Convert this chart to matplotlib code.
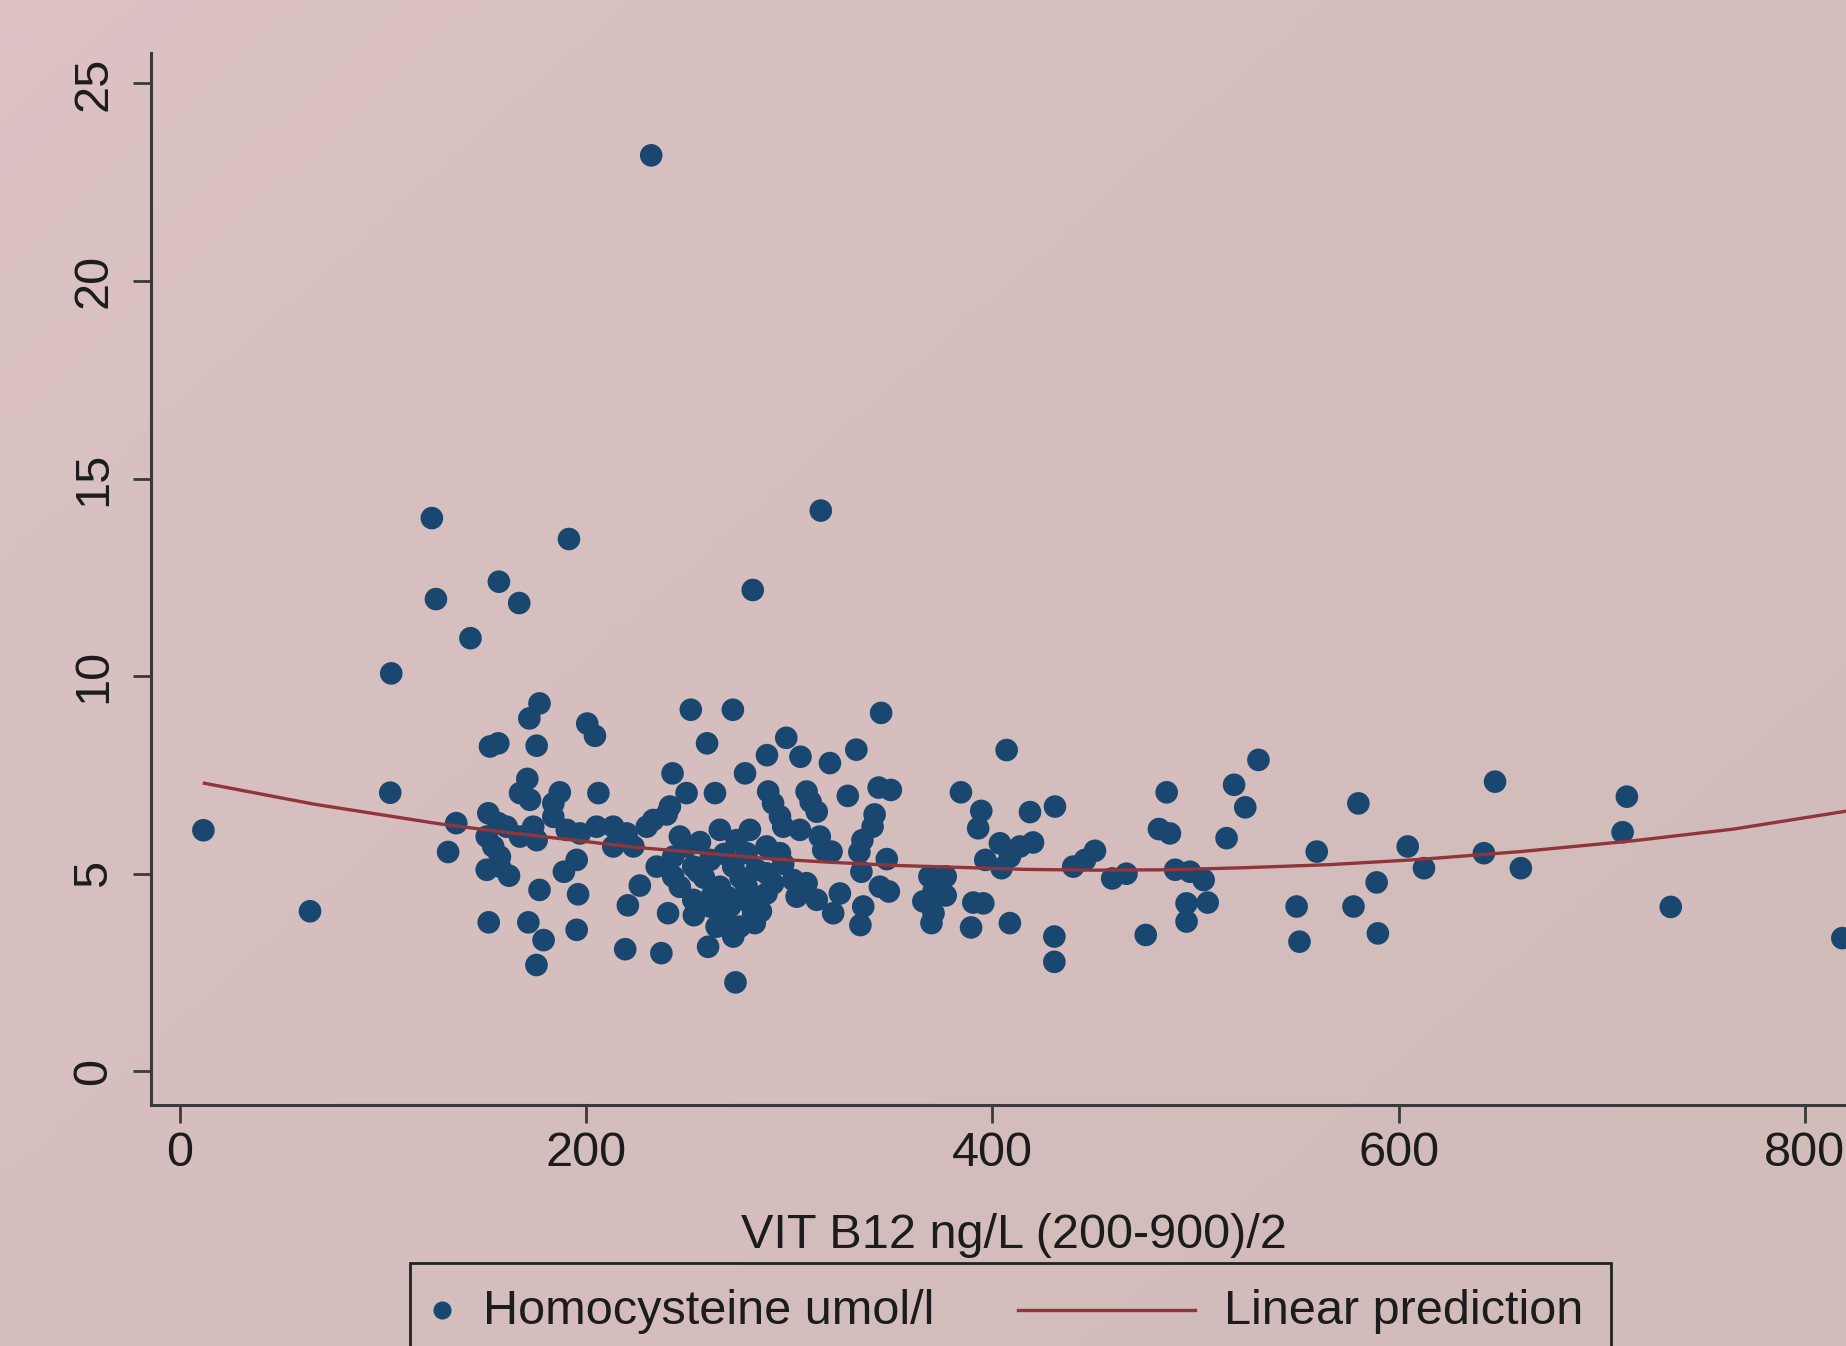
import numpy as np
import matplotlib
matplotlib.use("Agg")
import matplotlib.pyplot as plt
from matplotlib.patches import Rectangle
from matplotlib.lines import Line2D

# ---- data ----
vit_b12 = [
    11.5, 64, 104, 103.5, 124, 126, 132, 136, 143, 157, 167, 191.5, 232, 315.5, 282,
    177, 172, 175.6, 152.6, 156.7, 200.5, 204.3, 251.5, 242.5, 249.4, 241.2, 239.6,
    171, 167.4, 172.3, 187, 183.8, 206, 151.8, 156.7, 151, 160.8, 167.4, 173.9, 175.6,
    183.8, 190.4, 196.9, 205.1, 213.3, 219.9, 213.3, 223.2, 229.8, 233, 246.1, 154.2,
    157.5, 151, 162, 157.5, 177, 189, 195.3, 196, 226.4, 220.5, 234.7, 242.8, 240.3,
    246.1, 252.7, 249.4, 242.8, 252.7, 152, 171.5, 179, 175.5, 195.3, 219.2, 237,
    272.2, 345.2, 259.5, 298.5, 289, 305.5, 333, 320, 278.2, 263.4, 289.6, 308.5,
    328.8, 344, 350, 384.5, 292, 310.5, 342, 295.4, 313.5, 341, 297, 305.2, 315, 336,
    316.7, 320.8, 334.5, 348, 335.5, 349, 344.6, 369, 377, 371, 377, 366, 371, 370,
    302, 303.6, 313.5, 321.6, 324.9, 335, 336.4, 260, 273.5, 265.8, 280.6, 274, 288.8,
    295.4, 261, 272.4, 283.9, 265.8, 279, 288.8, 261, 270.8, 282.2, 264.2, 275.7,
    272.4, 288.8, 279, 256, 268, 285, 258, 276, 292, 268, 283, 262, 277,
    407, 394.5, 393, 418.5, 430.8, 403.7, 420, 396.5, 404.5, 408.6, 413.6, 439.8,
    445.6, 450.5, 459, 466, 390.6, 395.5, 389.5, 408.6, 430.5, 430.5, 485.8, 482,
    487.4, 490, 497.3, 504, 495.6, 506, 495.6, 475.5, 519, 524.5, 515.3, 531, 559.7,
    549.8, 551.2, 580.2, 577.8, 589.2, 589.8, 604.5, 612.5, 647.5, 642, 660.2, 712.4,
    710.3, 734, 818.5, 308.5, 255, 286, 270, 297, 253,
]
homocysteine = [
    6.10, 4.05, 10.07, 7.05, 14.0, 11.95, 5.55, 6.28, 10.96, 12.39, 11.85, 13.47, 23.18, 14.19, 12.18,
    9.31, 8.93, 8.24, 8.22, 8.30, 8.80, 8.49, 9.15, 7.54, 7.04, 6.70, 6.50,
    7.40, 7.04, 6.87, 7.06, 6.78, 7.04, 6.53, 6.28, 5.94, 6.19, 5.94, 6.19, 5.85,
    6.44, 6.11, 6.02, 6.19, 6.19, 6.02, 5.69, 5.69, 6.19, 6.36, 5.94, 5.69,
    5.43, 5.10, 4.95, 5.18, 4.59, 5.05, 5.35, 4.48, 4.70, 4.20, 5.18, 5.43, 4.00,
    4.67, 5.18, 5.69, 4.93, 4.34, 3.77, 3.77, 3.32, 2.69, 3.58, 3.09, 2.99,
    9.15, 9.07, 8.30, 8.44, 8.00, 7.96, 8.14, 7.80, 7.54, 7.04, 7.08, 7.08,
    6.97, 7.18, 7.12, 7.06, 6.78, 6.82, 6.50, 6.45, 6.57, 6.19, 6.19, 6.11, 5.94, 5.85,
    5.60, 5.56, 5.55, 5.37, 5.05, 4.55, 4.67, 4.93, 4.93, 4.55, 4.45, 4.30, 4.00, 3.75,
    4.84, 4.42, 4.34, 4.00, 4.50, 3.70, 4.17, 3.15, 2.25, 6.11, 6.11, 5.85, 5.69,
    5.52, 5.35, 5.18, 5.10, 4.67, 4.67, 4.50, 4.17, 4.17, 4.00, 3.66, 3.66,
    3.41, 5.01, 5.52, 5.80, 5.50, 4.30, 4.90, 4.90, 4.75, 3.90, 3.75, 4.45, 4.35,
    8.13, 6.59, 6.15, 6.56, 6.70, 5.77, 5.79, 5.35, 5.14, 5.43, 5.69, 5.18,
    5.35, 5.58, 4.88, 5.00, 4.27, 4.25, 3.64, 3.75, 3.41, 2.77, 7.06, 6.13,
    6.02, 5.10, 5.05, 4.84, 4.25, 4.27, 3.79, 3.45, 7.25, 6.68, 5.90, 7.88, 5.56,
    4.17, 3.28, 6.78, 4.17, 4.78, 3.49, 5.69, 5.14, 7.33, 5.52, 5.14, 6.95,
    6.05, 4.16, 3.37, 4.76, 5.05, 4.05, 4.40, 5.25, 3.95,
]
# fitted prediction line
fit_x = [12, 66, 128, 160, 192, 224, 256, 290, 320, 352, 384, 416, 450, 486,
         523, 566, 610, 660, 715, 765, 820]
fit_y = [7.29, 6.76, 6.26, 6.05, 5.86, 5.67, 5.53, 5.38, 5.29, 5.21, 5.16, 5.11,
         5.09, 5.10, 5.15, 5.23, 5.36, 5.56, 5.83, 6.13, 6.58]

x_ticks = [0, 200, 400, 600, 800]
y_ticks = [0, 5, 10, 15, 20, 25]
x_label = "VIT B12 ng/L (200-900)/2"
legend_labels = ["Homocysteine umol/l", "Linear prediction"]

# ---- style ----
W, H = 1846, 1346
FONT = ["Liberation Sans", "DejaVu Sans"]
plt.rcParams["font.family"] = FONT
TXT = "#1c1c1c"
AXC = "#3a3a3a"
MARKER_C = "#1a476f"
LINE_C = "#90353b"
FS = 35

fig = plt.figure(figsize=(W / 100, H / 100), dpi=100)

# background gradient
bg = fig.add_axes([0, 0, 1, 1], zorder=-10)
gx, gy = np.meshgrid(np.linspace(0, 1, 300), np.linspace(0, 1, 220))
t = np.clip(0.55 * gx + 0.45 * gy, 0, 1) ** 0.6
c0 = np.array([222, 195, 197]) / 255.0
c1 = np.array([209, 188, 186]) / 255.0
img = c0[None, None, :] * (1 - t[..., None]) + c1[None, None, :] * t[..., None]
bg.imshow(img, aspect="auto", extent=[0, 1, 0, 1], origin="upper")
bg.axis("off")

ax = fig.add_axes([151 / W, 1 - 1105 / H, 1 - 151 / W, (1105 - 53) / H])
ax.patch.set_alpha(0)
ax.set_xlim(-14.3, 820.3)
ax.set_ylim(-0.853, 25.77)

ax.scatter(vit_b12, homocysteine, s=265, color=MARKER_C, edgecolors="none",
           zorder=3, clip_on=False)
ax.plot(fit_x, fit_y, color=LINE_C, lw=2.4, zorder=4)

for s in ["top", "right"]:
    ax.spines[s].set_visible(False)
for s in ["left", "bottom"]:
    ax.spines[s].set_linewidth(2.2)
    ax.spines[s].set_color(AXC)

ax.set_xticks(x_ticks)
ax.set_yticks(y_ticks)
ax.tick_params(axis="both", direction="out", length=13, width=2, color=AXC,
               labelsize=FS, labelcolor=TXT)
ax.tick_params(axis="x", pad=6)
ax.tick_params(axis="y", pad=12)
for lab in ax.get_yticklabels():
    lab.set_rotation(90)
    lab.set_va("center")

ax.set_xlabel(x_label, fontsize=FS, color=TXT)
ax.xaxis.set_label_coords((1014 - 151) / (W - 151), (1105 - 1213) / (1105 - 53))

# legend box (clipped at bottom like the reference)
fx = lambda px: px / W
fy = lambda py: 1 - py / H
fig.patches.append(Rectangle((fx(409.7), fy(1420)), fx(1610.6) - fx(409.7),
                             fy(1262.7) - fy(1420), transform=fig.transFigure,
                             fill=False, lw=2.0, edgecolor="#222222", zorder=5))
fig.lines.append(Line2D([fx(441.5)], [fy(1310)], marker="o", markersize=12,
                        color=MARKER_C, linestyle="none", transform=fig.transFigure))
fig.lines.append(Line2D([fx(1018), fx(1195)], [fy(1310), fy(1310)], color=LINE_C,
                        lw=2.4, transform=fig.transFigure))
fig.text(fx(482.7), fy(1312), legend_labels[0], fontsize=FS, color=TXT,
         va="center", ha="left")
fig.text(fx(1224.4), fy(1312), legend_labels[1], fontsize=FS, color=TXT,
         va="center", ha="left")

fig.savefig("out.png", dpi=100)
